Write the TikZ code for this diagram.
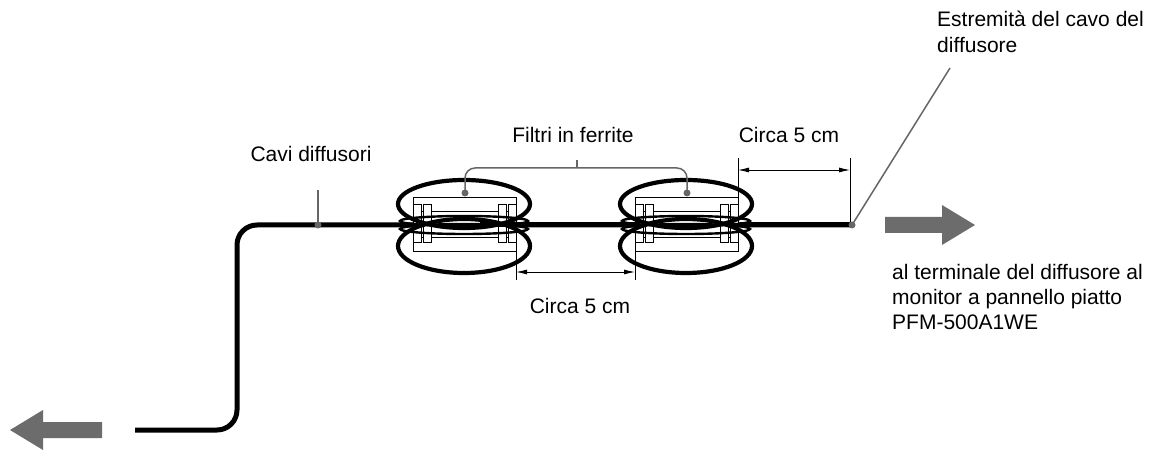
\documentclass[tikz,border=0pt]{standalone}
\usepackage{fontspec}
\setmainfont{Liberation Sans}
\usetikzlibrary{arrows.meta}
\begin{document}
\begin{tikzpicture}[x=1pt,y=-1pt,
  lbl/.style={font=\fontsize{21}{25.5}\selectfont,inner sep=0pt},
  cable/.style={line width=5pt},
  loop/.style={line width=4.2pt},
  fbox/.style={line width=0.9pt},
  dim/.style={line width=0.9pt,{Latex[length=11pt,width=5pt]}-{Latex[length=11pt,width=5pt]}},
  lead/.style={gray!80!black,line width=1.5pt},
  bigarrow/.style={draw=none,fill=gray!85!black}]
\useasboundingbox (0,0) rectangle (1162,462);
% cable
\coordinate (cL) at (135,430);
\coordinate (cE) at (852,225);
\draw[cable,rounded corners=20pt] (cL) -- (237,430) -- (237,225) -- (cE);
% ferrites
\foreach \x/\n in {413/A,635/B}{
  \draw[fbox,fill=white] (\x,197) rectangle +(103,54);
  \draw[fbox] (\x,211) -- +(103,0) (\x,237) -- +(103,0);
  \foreach \dx in {4,14,89,99}{
    \draw[fbox,fill=white] (\x+\dx-4,204) rectangle +(8,38);}
  \foreach \dx in {9,94}{\draw[fbox] (\x+\dx,224) circle (3);}
  \draw[loop] (\x+51,204) ellipse (66 and 24);
  \draw[loop] (\x+51,246) ellipse (66 and 27);
  \draw[line width=2.4pt] (\x+51,221) ellipse (64 and 5);
  \draw[line width=2.4pt] (\x+51,229) ellipse (64 and 5);
  \coordinate (f\n) at (\x+51,225);
}
\draw[cable] (480,225) -- (640,225);
\draw[cable] (740,225) -- (cE);
% dims
\draw[line width=0.9pt] (516,251) -- (516,280) (635,251) -- (635,280);
\draw[dim] (516,272) -- (635,272);
\draw[line width=0.9pt] (738,158) -- (738,197) (850,158) -- (850,222);
\draw[dim] (738,170) -- (850,170);
% labels
\node[lbl,anchor=base] (ferr) at (573,143) {Filtri in ferrite};
\draw[lead,rounded corners=10pt] (465,193) -- (465,168) -- (687,168) -- (687,193);
\draw[lead] (577,168) -- (577,160);
\fill[gray!80!black] (465,193) circle (3.5) (687,193) circle (3.5);
\node[lbl,anchor=base] (cavi) at (311,162) {Cavi diffusori};
\draw[lead] (318,225) -- (318,190);
\fill[gray!80!black] (318,225) circle (3.5);
\node[lbl,anchor=base] (c1) at (789,143) {Circa 5 cm};
\node[lbl,anchor=base] (c2) at (580,313) {Circa 5 cm};
\node[lbl,anchor=base west] (estr1) at (937,27) {Estremità del cavo del};
\node[lbl,anchor=base west] (estr2) at (937,53) {diffusore};
\draw[lead] (cE) -- (950,68);
\fill[gray!80!black] (cE) circle (3.5);
\node[lbl,anchor=base west] (term1) at (892,280) {al terminale del diffusore al};
\node[lbl,anchor=base west] (term2) at (892,305) {monitor a pannello piatto};
\node[lbl,anchor=base west] (term3) at (892,330) {PFM-500A1WE};
% big arrows
\fill[bigarrow] (885,217) -- (942,217) -- (942,205) -- (975,225) -- (942,245) -- (942,233) -- (885,233) -- cycle;
\fill[bigarrow] (102,422) -- (43,422) -- (43,410) -- (10,430) -- (43,450) -- (43,438) -- (102,438) -- cycle;
\end{tikzpicture}
\end{document}
